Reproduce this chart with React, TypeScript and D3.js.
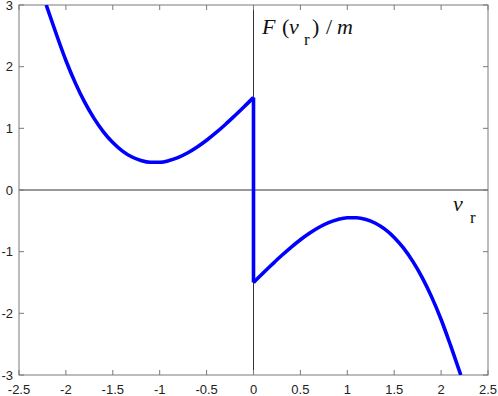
import React from 'react';
import * as d3 from 'd3';

// values (v_r, F/m)
const rightV = [0, 0.1, 0.2, 0.3, 0.4, 0.5, 0.6, 0.7, 0.8, 0.9, 1.0, 1.1, 1.2, 1.3, 1.4, 1.5, 1.6, 1.7, 1.8, 1.9, 2.0, 2.1, 2.21];
const rightF = [-1.5, -1.35, -1.204, -1.062, -0.929, -0.806, -0.697, -0.604, -0.53, -0.478, -0.45, -0.449, -0.478, -0.539, -0.635, -0.769, -0.943, -1.161, -1.424, -1.737, -2.1, -2.517, -3.0];
const leftV = [-2.21, -2.1, -2.0, -1.9, -1.8, -1.7, -1.6, -1.5, -1.4, -1.3, -1.2, -1.1, -1.0, -0.9, -0.8, -0.7, -0.6, -0.5, -0.4, -0.3, -0.2, -0.1, 0];
const leftF = [3.0, 2.517, 2.1, 1.737, 1.424, 1.161, 0.943, 0.769, 0.635, 0.539, 0.478, 0.449, 0.45, 0.478, 0.53, 0.604, 0.697, 0.806, 0.929, 1.062, 1.204, 1.35, 1.5];

const xTicks = [-2.5, -2, -1.5, -1, -0.5, 0, 0.5, 1, 1.5, 2, 2.5];
const yTicks = [-3, -2, -1, 0, 1, 2, 3];

const width = 498;
const height = 396;
const margin = { top: 5, right: 10, bottom: 21, left: 19 };

export default function App() {
    const x = d3.scaleLinear().domain([-2.5, 2.5]).range([margin.left, width - margin.right]);
    const y = d3.scaleLinear().domain([-3, 3]).range([height - margin.bottom, margin.top]);

    const line = d3.line<[number, number]>()
        .x((d) => x(d[0]))
        .y((d) => y(d[1]))
        .curve(d3.curveMonotoneX);

    const left = leftV.map((v, i) => [v, leftF[i]] as [number, number]);
    const right = rightV.map((v, i) => [v, rightF[i]] as [number, number]);
    const jump: [number, number][] = [[0, leftF[leftF.length - 1]], [0, rightF[0]]];

    const x0 = x.range()[0], x1 = x.range()[1];
    const y0 = y.range()[1], y1 = y.range()[0];
    const tick = 5;
    const frame = '#7a7a7a';
    const serif = "'Liberation Serif', 'Times New Roman', serif";

    return (
        <svg width={width} height={height} style={{ position: 'absolute', left: 0, top: 0 }}
            fontFamily="'Liberation Sans', Arial, sans-serif">
            <defs>
                <clipPath id="plot">
                    <rect x={x0} y={y0} width={x1 - x0} height={y1 - y0} />
                </clipPath>
            </defs>
            <rect width={width} height={height} fill="#fff" />

            {/* zero axes */}
            <line x1={x0} x2={x1} y1={y(0)} y2={y(0)} stroke="#333" strokeWidth={1} />
            <line x1={x(0)} x2={x(0)} y1={y0} y2={y1} stroke="#333" strokeWidth={1} />

            {/* box and ticks */}
            <rect x={x0} y={y0} width={x1 - x0} height={y1 - y0} fill="none" stroke={frame} strokeWidth={1} />
            {xTicks.map((t) => (
                <g key={'x' + t}>
                    <line x1={x(t)} x2={x(t)} y1={y1} y2={y1 - tick} stroke={frame} />
                    <line x1={x(t)} x2={x(t)} y1={y0} y2={y0 + tick} stroke={frame} />
                    <text x={x(t)} y={394} textAnchor="middle" fontSize={13} fill="#222">{t}</text>
                </g>
            ))}
            {yTicks.map((t) => (
                <g key={'y' + t}>
                    <line x1={x0} x2={x0 + tick} y1={y(t)} y2={y(t)} stroke={frame} />
                    <line x1={x1} x2={x1 - tick} y1={y(t)} y2={y(t)} stroke={frame} />
                    <text x={13} y={y(t)} dy="0.36em" textAnchor="end" fontSize={13} fill="#222">{t}</text>
                </g>
            ))}

            <g clipPath="url(#plot)" fill="none" stroke="#0000ff" strokeWidth={3.6}>
                <path d={line(left) || ''} />
                <path d={line(right) || ''} />
                <path d={d3.line()(jump.map((d) => [x(d[0]), y(d[1])] as [number, number])) || ''} />
            </g>

            {/* axis titles */}
            <text y={34} fontFamily={serif} fontSize={22} fill="#111">
                <tspan x={262} fontStyle="italic">F</tspan>
                <tspan x={282}>(</tspan>
                <tspan x={289} fontStyle="italic">v</tspan>
                <tspan x={304} dy={11} fontSize={17}>r</tspan>
                <tspan x={312} dy={-11}>)</tspan>
                <tspan x={326}>/</tspan>
                <tspan x={337} fontStyle="italic">m</tspan>
            </text>
            <text y={211} fontFamily={serif} fontSize={22} fill="#111">
                <tspan x={453} fontStyle="italic">v</tspan>
                <tspan x={470} dy={12} fontSize={17}>r</tspan>
            </text>
        </svg>
    );
}
